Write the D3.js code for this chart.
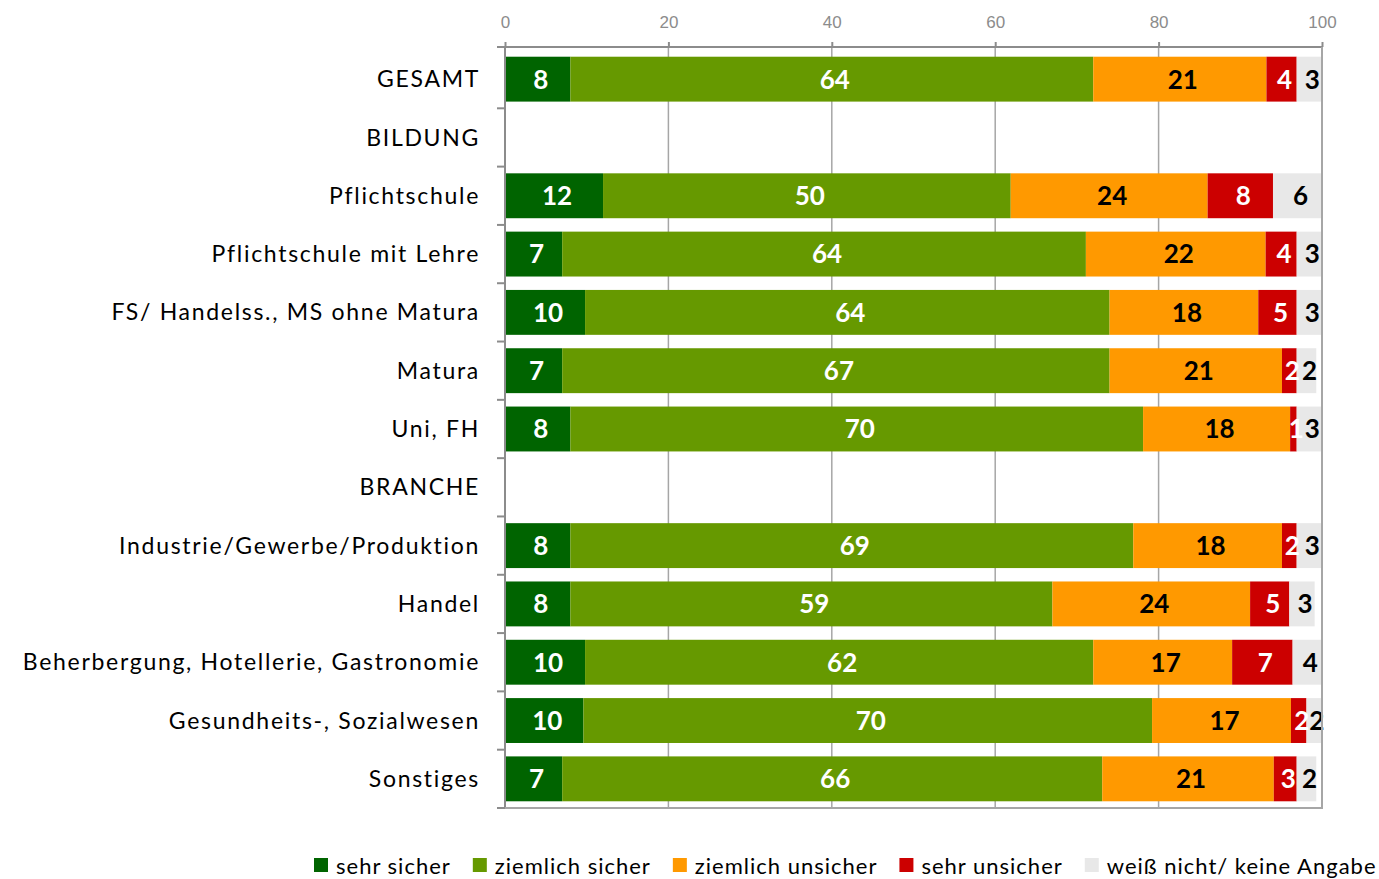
<!DOCTYPE html>
<html>
<head>
<meta charset="utf-8">
<script src="https://cdn.jsdelivr.net/npm/d3@7"></script>
<style>
  body { margin: 0; background: #fff; }
  svg { display: block; font-family: Lato, "Open Sans", sans-serif; }
  .cat { font-size: 23px; fill: #000; letter-spacing: 1.7px; }
  .val { font-size: 26px; font-weight: bold; }
  .tick text { font-size: 17px; fill: #8c8c8c; }
  .legend text { font-size: 22px; fill: #000; letter-spacing: 1px; }
</style>
</head>
<body>
<svg width="1379" height="879"></svg>
<script>
const categories = ['GESAMT', 'BILDUNG', 'Pflichtschule', 'Pflichtschule mit Lehre',
  'FS/ Handelss., MS ohne Matura', 'Matura', 'Uni, FH', 'BRANCHE',
  'Industrie/Gewerbe/Produktion', 'Handel', 'Beherbergung, Hotellerie, Gastronomie',
  'Gesundheits-, Sozialwesen', 'Sonstiges']

const seriesNames = ['sehr sicher', 'ziemlich sicher', 'ziemlich unsicher', 'sehr unsicher', 'weiß nicht/ keine Angabe']

const sehrSicher       = [8.0, null, 12.0, 7.0, 9.8, 7.0, 8.0, null, 8.0, 8.0, 9.8, 9.6, 7.0]
const ziemlichSicher   = [64.0, null, 49.9, 64.1, 64.2, 67.0, 70.1, null, 68.9, 59.0, 62.2, 69.6, 66.1]
const ziemlichUnsicher = [21.2, null, 24.1, 22.0, 18.2, 21.1, 18.0, null, 18.2, 24.2, 17.0, 17.0, 21.0]
const sehrUnsicher     = [3.7, null, 8.0, 3.8, 4.7, 1.8, 0.8, null, 1.8, 4.8, 7.4, 1.9, 2.8]
const weissNicht       = [3.1, null, 6.0, 3.1, 3.1, 2.4, 3.1, null, 3.1, 3.1, 3.6, 1.8, 2.4]

const xTicks = [0, 20, 40, 60, 80, 100]

const colors = ['#006400', '#669900', '#ff9900', '#cc0000', '#e8e8e8']
const labelColors = ['#fff', '#fff', '#000', '#fff', '#000']

var svg = d3.select('svg')

const plotLeft = 505, plotRight = 1322, plotTop = 47, plotBottom = 808

const x = d3.scaleLinear().domain([0, 100]).range([plotLeft, plotRight])
const y = d3.scaleBand().domain(categories).range([50, plotBottom]).paddingInner(0.23).paddingOuter(0.115)

// gridlines
svg.append('g')
  .selectAll('line')
  .data(xTicks)
  .enter()
  .append('line')
  .attr('x1', d => x(d)).attr('x2', d => x(d))
  .attr('y1', plotTop).attr('y2', plotBottom)
  .attr('stroke', '#a6a6a6')
  .attr('stroke-width', 1.5)

// table of rows
const rows = categories.map((c, i) => {
  const vals = [sehrSicher[i], ziemlichSicher[i], ziemlichUnsicher[i], sehrUnsicher[i], weissNicht[i]]
  return { cat: c, vals: vals }
}).filter(r => r.vals[0] != null)

const segs = []
rows.forEach(r => {
  let acc = 0
  r.vals.forEach((v, k) => {
    segs.push({ cat: r.cat, k: k, x0: acc, x1: acc + v, v: v })
    acc += v
  })
})

const bars = svg.append('g')

bars.selectAll('rect')
  .data(segs)
  .enter()
  .append('rect')
  .attr('x', d => x(d.x0))
  .attr('y', d => y(d.cat))
  .attr('width', d => x(d.x1) - x(d.x0))
  .attr('height', y.bandwidth())
  .attr('fill', d => colors[d.k])

bars.selectAll('text')
  .data(segs)
  .enter()
  .append('text')
  .attr('class', 'val')
  .attr('x', d => (x(d.x0) + x(d.x1)) / 2)
  .attr('y', d => y(d.cat) + y.bandwidth() / 2)
  .attr('dx', 3)
  .attr('dy', '0.36em')
  .attr('text-anchor', 'middle')
  .attr('fill', d => labelColors[d.k])
  .text(d => Math.round(d.v))

// top axis
const xAxis = svg.append('g')
  .attr('transform', `translate(0,${plotTop})`)
  .call(d3.axisTop(x).tickValues(xTicks).tickSize(5).tickPadding(14))
xAxis.selectAll('path, line').attr('stroke', '#8c8c8c').attr('stroke-width', 2)
xAxis.select('.domain').attr('d', `M${plotLeft - 8},0H${plotRight}`)

// left axis
const yAxis = svg.append('g')
  .attr('transform', `translate(${plotLeft},0)`)
yAxis.append('line')
  .attr('x1', 0).attr('x2', 0).attr('y1', plotTop).attr('y2', plotBottom)
  .attr('stroke', '#8c8c8c').attr('stroke-width', 2)
const bounds = d3.range(1, categories.length + 1).map(i => 50 + i * y.step())
yAxis.selectAll('.tk')
  .data(bounds)
  .enter()
  .append('line')
  .attr('x1', -8).attr('x2', 0)
  .attr('y1', d => d).attr('y2', d => d)
  .attr('stroke', '#8c8c8c').attr('stroke-width', 2)

yAxis.selectAll('text')
  .data(categories)
  .enter()
  .append('text')
  .attr('class', 'cat')
  .attr('x', -25)
  .attr('y', d => y(d) + y.bandwidth() / 2)
  .attr('dy', '0.35em')
  .attr('text-anchor', 'end')
  .text(d => d)

// frame bottom/right
svg.append('path')
  .attr('d', `M${plotLeft},${plotBottom}H${plotRight}V${plotTop}`)
  .attr('fill', 'none')
  .attr('stroke', '#a6a6a6')
  .attr('stroke-width', 2)

// legend
const legend = svg.append('g').attr('class', 'legend')
let lx = 314
seriesNames.forEach((name, k) => {
  legend.append('rect')
    .attr('x', lx).attr('y', 858)
    .attr('width', 14).attr('height', 14)
    .attr('fill', colors[k])
  const t = legend.append('text')
    .attr('x', lx + 22).attr('y', 874)
    .text(name)
  lx += 22 + t.node().getComputedTextLength() + 22
})
</script>
</body>
</html>
